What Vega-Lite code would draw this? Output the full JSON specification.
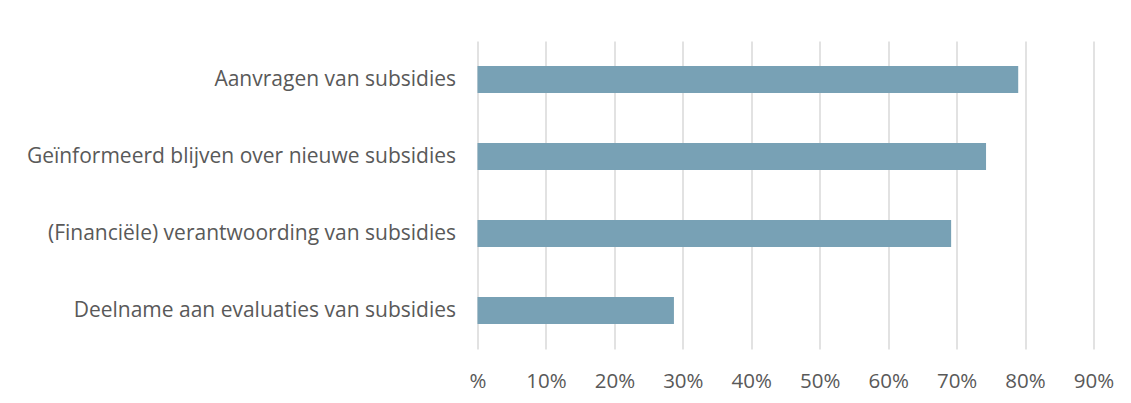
{
  "$schema": "https://vega.github.io/schema/vega-lite/v6.json",
  "autosize": "none",
  "width": 616,
  "height": 308,
  "padding": {"left": 477.5, "top": 41, "right": 37.5, "bottom": 54},
  "background": "white",
  "data": {"values": [
    {"aspect": "Aanvragen van subsidies", "pct": 0.790},
    {"aspect": "Geïnformeerd blijven over nieuwe subsidies", "pct": 0.743},
    {"aspect": "(Financiële) verantwoording van subsidies", "pct": 0.692},
    {"aspect": "Deelname aan evaluaties van subsidies", "pct": 0.287}
  ]},
  "mark": {"type": "bar", "color": "#78a1b5"},
  "encoding": {
    "y": {"field": "aspect", "type": "nominal", "sort": null, "title": null,
      "scale": {"paddingInner": 0.65, "paddingOuter": 0.325},
      "axis": {"domain": false, "ticks": false, "grid": false, "labelPadding": 22, "labelFont": "Open Sans", "labelFontSize": 21, "labelColor": "#595959", "labelLimit": 600}},
    "x": {"field": "pct", "type": "quantitative", "title": null,
      "scale": {"domain": [0, 0.9], "nice": false},
      "axis": {"values": [0, 0.1, 0.2, 0.3, 0.4, 0.5, 0.6, 0.7, 0.8, 0.9], "labelExpr": "datum.value == 0 ? '%' : format(datum.value, '.0%')", "domain": false, "ticks": false, "grid": true, "gridColor": "#d9d9d9", "gridWidth": 1.5, "labelPadding": 22, "labelFont": "Open Sans", "labelFontSize": 20.5, "labelColor": "#595959", "labelFlush": false}}
  },
  "config": {"view": {"stroke": null}}
}
